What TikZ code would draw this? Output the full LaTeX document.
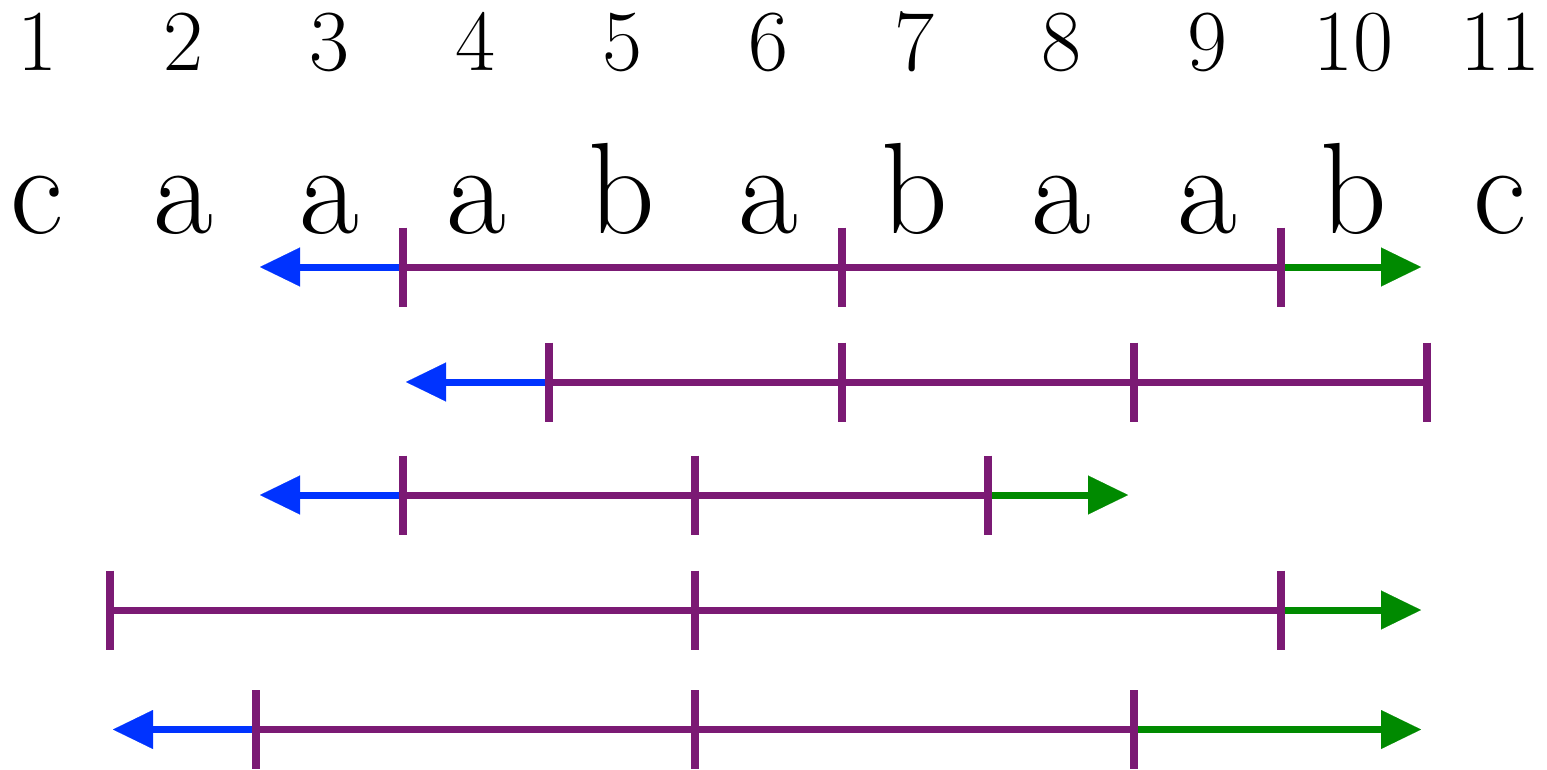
\documentclass[tikz,border=0pt]{standalone}
\usepackage{fontspec}
\usetikzlibrary{arrows.meta}
\definecolor{seqpurple}{HTML}{7B1A74}
\definecolor{seqblue}{HTML}{0033FF}
\definecolor{seqgreen}{HTML}{008A00}
\begin{document}
\begin{tikzpicture}[x=1pt,y=-1pt,
  digit/.style={anchor=base,inner sep=0pt,font=\fontsize{87}{90}\selectfont},
  letter/.style={anchor=base,inner sep=0pt,font=\fontsize{130}{135}\selectfont},
  seg/.style={draw=seqpurple,line width=7pt},
  tickmark/.style={draw=seqpurple,line width=8pt},
  head/.style={-{Triangle[length=40pt,width=39pt,line width=0.1pt]}},
  leftarr/.style={draw=seqblue,line width=7pt,head},
  rightarr/.style={draw=seqgreen,line width=7pt,head}]
\useasboundingbox (0,0) rectangle (1547,769);
% column labels
\foreach \i [count=\k from 0] in {1,...,11}
  \node[digit] (n\i) at ({37+146.3*\k},70) {\i};
\foreach \c [count=\k from 0] in {c,a,a,a,b,a,b,a,a,b,c}
  \node[letter] (l\k) at ({37+146.3*\k},233) {\c};
% row 1
\coordinate (r1a) at ({37+146.3*2.5},267);
\coordinate (r1b) at ({37+146.3*5.5},267);
\coordinate (r1c) at ({37+146.3*8.5},267);
\coordinate (r1l) at (260,267);
\coordinate (r1r) at (1421,267);
\draw[leftarr] (r1a) -- (r1l);
\draw[rightarr] (r1c) -- (r1r);
\draw[seg] (r1a) -- (r1c);
\foreach \p in {r1a,r1b,r1c} \draw[tickmark] (\p) ++(0,-39.5) -- ++(0,79);
% row 2
\coordinate (r2a) at ({37+146.3*3.5},382);
\coordinate (r2b) at ({37+146.3*5.5},382);
\coordinate (r2c) at ({37+146.3*7.5},382);
\coordinate (r2d) at ({37+146.3*9.5},382);
\coordinate (r2l) at (406,382);
\draw[leftarr] (r2a) -- (r2l);
\draw[seg] (r2a) -- (r2d);
\foreach \p in {r2a,r2b,r2c,r2d} \draw[tickmark] (\p) ++(0,-39.5) -- ++(0,79);
% row 3
\coordinate (r3a) at ({37+146.3*2.5},495);
\coordinate (r3b) at ({37+146.3*4.5},495);
\coordinate (r3c) at ({37+146.3*6.5},495);
\coordinate (r3l) at (260,495);
\coordinate (r3r) at (1128,495);
\draw[leftarr] (r3a) -- (r3l);
\draw[rightarr] (r3c) -- (r3r);
\draw[seg] (r3a) -- (r3c);
\foreach \p in {r3a,r3b,r3c} \draw[tickmark] (\p) ++(0,-39.5) -- ++(0,79);
% row 4
\coordinate (r4a) at ({37+146.3*0.5},610);
\coordinate (r4b) at ({37+146.3*4.5},610);
\coordinate (r4c) at ({37+146.3*8.5},610);
\coordinate (r4r) at (1421,610);
\draw[rightarr] (r4c) -- (r4r);
\draw[seg] (r4a) -- (r4c);
\foreach \p in {r4a,r4b,r4c} \draw[tickmark] (\p) ++(0,-39.5) -- ++(0,79);
% row 5
\coordinate (r5a) at ({37+146.3*1.5},729.5);
\coordinate (r5b) at ({37+146.3*4.5},729.5);
\coordinate (r5c) at ({37+146.3*7.5},729.5);
\coordinate (r5l) at (113,729.5);
\coordinate (r5r) at (1421,729.5);
\draw[leftarr] (r5a) -- (r5l);
\draw[rightarr] (r5c) -- (r5r);
\draw[seg] (r5a) -- (r5c);
\foreach \p in {r5a,r5b,r5c} \draw[tickmark] (\p) ++(0,-39.5) -- ++(0,79);
\end{tikzpicture}
\end{document}
